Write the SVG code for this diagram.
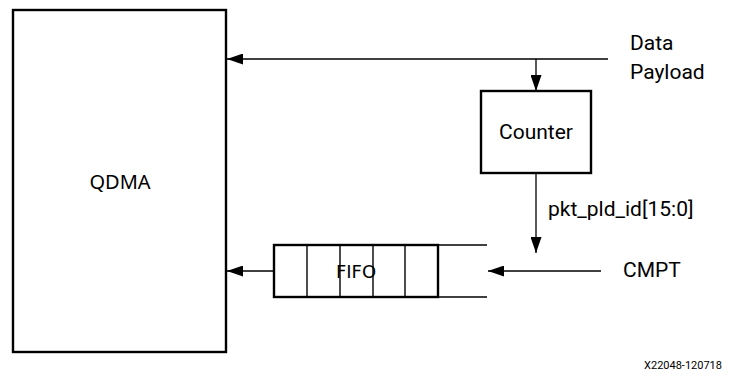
<svg xmlns="http://www.w3.org/2000/svg" width="740" height="375" viewBox="0 0 740 375">
<defs>
<marker id="ah" viewBox="0 0 16 11" refX="16" refY="5.5" markerWidth="16" markerHeight="11" markerUnits="userSpaceOnUse" orient="auto">
<path d="M0,0 L16,5.5 L0,11 Z" fill="#000"/>
</marker>
</defs>
<style>
.box{fill:#fff;stroke:#000;stroke-width:2.4}
.cell{stroke:#000;stroke-width:1.4;fill:none}
.ln{stroke:#000;stroke-width:1.3;fill:none}
.arr{stroke:#000;stroke-width:1.3;fill:none;marker-end:url(#ah)}
.t{font-family:Roboto,"Liberation Sans",sans-serif;font-size:21px;fill:#000}
</style>
<rect width="740" height="375" fill="#fff"/>
<g id="qdma">
<rect class="box" x="13" y="10" width="213" height="342"/>
<text x="120" y="189" text-anchor="middle" style="font-family:'Noto Sans',sans-serif;font-size:20px">QDMA</text>
</g>
<g id="counter">
<rect class="box" x="481" y="91" width="110" height="82"/>
<text class="t" x="536" y="139" text-anchor="middle">Counter</text>
</g>
<g id="fifo">
<rect class="box" x="274" y="245" width="164" height="52"/>
<line class="cell" x1="307" y1="245" x2="307" y2="297"/>
<line class="cell" x1="340" y1="245" x2="340" y2="297"/>
<line class="cell" x1="373" y1="245" x2="373" y2="297"/>
<line class="cell" x1="405" y1="245" x2="405" y2="297"/>
<line class="ln" x1="438" y1="245" x2="487" y2="245"/>
<line class="ln" x1="438" y1="297" x2="487" y2="297"/>
<text x="356" y="278" text-anchor="middle" style="font-family:'DejaVu Sans',sans-serif;font-size:18px">FIFO</text>
</g>
<g id="connectors">
<line class="arr" x1="608" y1="59" x2="227" y2="59"/>
<line class="arr" x1="536" y1="59" x2="536" y2="91"/>
<line class="arr" x1="536" y1="173" x2="536" y2="253"/>
<line class="arr" x1="274" y1="271" x2="227" y2="271"/>
<line class="arr" x1="601" y1="271" x2="488" y2="271"/>
</g>
<g id="labels">
<text class="t" x="630" y="50">Data</text>
<text class="t" x="630" y="79">Payload</text>
<text class="t" x="548" y="216">pkt_pld_id[15:0]</text>
<text class="t" x="623" y="277">CMPT</text>
<text x="722" y="369" text-anchor="end" style="font-family:Roboto,sans-serif;font-size:11px">X22048-120718</text>
</g>
</svg>
